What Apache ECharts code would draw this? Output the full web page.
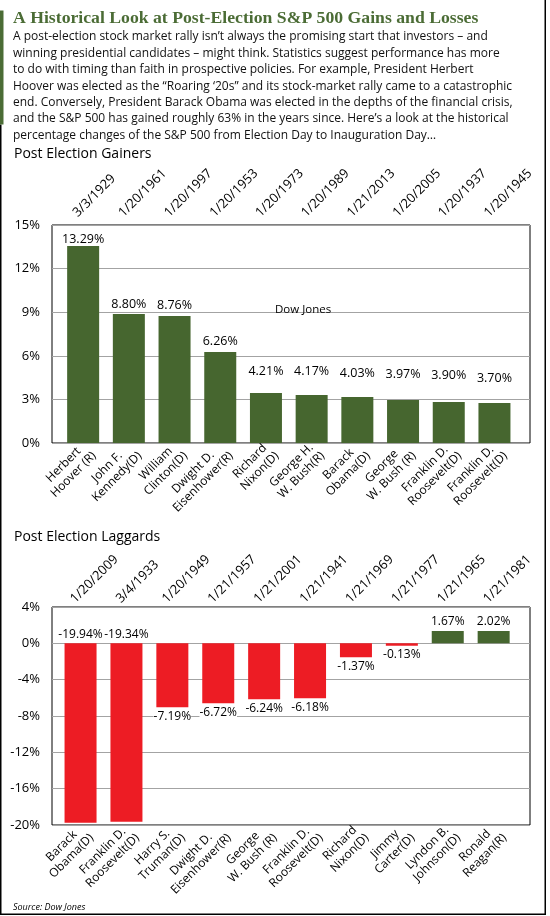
<!DOCTYPE html>
<html><head><meta charset="utf-8">
<script src="https://cdn.jsdelivr.net/npm/echarts@6/dist/echarts.min.js"></script>
<style>html,body{margin:0;padding:0;background:#fff}#c{width:550px;height:916px}</style>
</head><body><div id="c"></div>
<script>
// ---------- data ----------
const titleText = 'A Historical Look at Post-Election S&P 500 Gains and Losses';
const bodyLines = [
  'A post-election stock market rally isn\u2019t always the promising start that investors \u2013 and',
  'winning presidential candidates \u2013 might think. Statistics suggest performance has more',
  'to do with timing than faith in prospective policies. For example, President Herbert',
  'Hoover was elected as the \u201cRoaring \u201820s\u201d and its stock-market rally came to a catastrophic',
  'end. Conversely, President Barack Obama was elected in the depths of the financial crisis,',
  'and the S&P 500 has gained roughly 63% in the years since. Here\u2019s a look at the historical',
  'percentage changes of the S&P 500 from Election Day to Inauguration Day\u2026'
];
const gainTitle = 'Post Election Gainers';
const gainDates = ['3/3/1929','1/20/1961','1/20/1997','1/20/1953','1/20/1973','1/20/1989','1/21/2013','1/20/2005','1/20/1937','1/20/1945'];
const gainNames = ['Herbert\nHoover (R)','John F.\nKennedy(D)','William\nClinton(D)','Dwight D.\nEisenhower(R)','Richard\nNixon(D)','George H.\nW. Bush(R)','Barack\nObama(D)','George\nW. Bush (R)','Franklin D.\nRoosevelt(D)','Franklin D.\nRoosevelt(D)'];
const gainValues = [13.55, 8.88, 8.74, 6.26, 3.44, 3.30, 3.17, 2.96, 2.82, 2.75];   // bar heights as drawn
const gainLabels = [13.29, 8.80, 8.76, 6.26, 4.21, 4.17, 4.03, 3.97, 3.90, 3.70];   // printed values
const gainAxis = [0, 15, 3];

const lagTitle = 'Post Election Laggards';
const lagDates = ['1/20/2009','3/4/1933','1/20/1949','1/21/1957','1/21/2001','1/21/1941','1/21/1969','1/21/1977','1/21/1965','1/21/1981'];
const lagNames = ['Barack\nObama(D)','Franklin D.\nRoosevelt(D)','Harry S.\nTruman(D)','Dwight D.\nEisenhower(R)','George\nW. Bush (R)','Franklin D.\nRoosevelt(D)','Richard\nNixon(D)','Jimmy\nCarter(D)','Lyndon B.\nJohnson(D)','Ronald\nReagan(R)'];
const lagValues = [-19.74, -19.63, -7.04, -6.60, -6.16, -6.04, -1.54, -0.26, 1.35, 1.35];
const lagLabels = [-19.94, -19.34, -7.19, -6.72, -6.24, -6.18, -1.37, -0.13, 1.67, 2.02];
const lagAxis = [-20, 4, 4];

const annotation = 'Dow Jones';
const sourceText = 'Source: Dow Jones';

// ---------- styles ----------
const SANS = '"Open Sans", "Noto Sans", sans-serif';
const GREEN = '#46662f';
const RED = '#ed1c24';
const fmt = v => v.toFixed(2) + '%';

const chart = echarts.init(document.getElementById('c'), null, {renderer: 'canvas'});

const grids = [], xAxes = [], yAxes = [], series = [];

function panel(p) {
  const g = grids.length;
  const [mn, mx, step] = p.axis;
  grids.push(
    {left: 52, top: p.top, width: 478, height: 218, show: true, borderColor: '#000', borderWidth: 1, backgroundColor: 'transparent'},
    {left: p.bandLeft, top: p.top, width: p.bandW, height: 218},
    {left: p.bandLeft + p.dateShift, top: p.top, width: p.bandW, height: 218},
    {left: p.bandLeft + p.nameShift, top: p.top, width: p.bandW, height: 218}
  );
  xAxes.push(
    {gridIndex: g, type: 'value', min: 0, max: 1, show: false},
    {gridIndex: g + 1, type: 'category', data: p.names, show: false},
    {gridIndex: g + 2, type: 'category', data: p.dates, position: 'top',
      axisLine: {show: false}, axisTick: {show: false},
      axisLabel: {interval: 0, rotate: 45, margin: p.dateMargin, fontSize: 13, color: '#000', fontFamily: SANS}},
    {gridIndex: g + 3, type: 'category', data: p.names, position: 'bottom',
      axisLine: {show: false}, axisTick: {show: false},
      axisLabel: {interval: 0, rotate: 45, margin: p.nameMargin,
        formatter: v => v.split('\n').map(s => '{c|' + s + '}').join('\n'),
        rich: {c: {align: 'center', fontSize: 12, lineHeight: 14, color: '#000', fontFamily: SANS}}}}
  );
  yAxes.push(
    {gridIndex: g, type: 'value', min: mn, max: mx, interval: step,
      axisLine: {show: false}, axisTick: {show: false},
      axisLabel: {formatter: v => v + '%', color: '#000', fontSize: 13, margin: 12, fontFamily: SANS},
      splitLine: {lineStyle: {color: '#a3a3a3', width: 1}}},
    {gridIndex: g + 1, type: 'value', min: mn, max: mx, interval: step, show: false},
    {gridIndex: g + 2, type: 'value', min: mn, max: mx, interval: step, show: false},
    {gridIndex: g + 3, type: 'value', min: mn, max: mx, interval: step, show: false}
  );
  return g + 1;
}

// top panel
const gIdx = panel({top: 225, axis: gainAxis, names: gainNames, dates: gainDates,
  bandLeft: 60.3, bandW: 457, dateShift: -8, dateMargin: 10, nameShift: 6, nameMargin: 6});
series.push({
  type: 'bar', xAxisIndex: gIdx, yAxisIndex: gIdx, data: gainValues, barWidth: 32,
  itemStyle: {color: GREEN}, silent: true
}, {
  type: 'bar', xAxisIndex: gIdx, yAxisIndex: gIdx, data: gainLabels, barWidth: 32, barGap: '-100%',
  itemStyle: {color: 'rgba(0,0,0,0)'}, silent: true, z: 5,
  label: {show: true, position: 'top', distance: 4, formatter: o => fmt(gainLabels[o.dataIndex]),
    color: '#000', fontSize: 12.5, fontFamily: SANS}
});

// bottom panel
const lIdx = panel({top: 607, axis: lagAxis, names: lagNames, dates: lagDates,
  bandLeft: 57.6, bandW: 459, dateShift: -8, dateMargin: 6, nameShift: 6, nameMargin: 6});
series.push({
  type: 'bar', xAxisIndex: lIdx, yAxisIndex: lIdx, barWidth: 32, silent: true, z: 5,
  data: lagValues.map((v, i) => ({
    value: v,
    itemStyle: {color: v < 0 ? RED : GREEN},
    label: {position: v < -15 ? 'top' : (v < 0 ? 'bottom' : 'top')}
  })),
  label: {show: true, distance: 3, formatter: o => fmt(lagLabels[o.dataIndex]),
    color: '#000', fontSize: 12, fontFamily: SANS, backgroundColor: '#fff', padding: 0}
});

// ---------- graphics ----------
const graphic = [
  {type: 'rect', shape: {x: 0, y: 10.5, width: 3.5, height: 114}, style: {fill: '#4b6c35'}, z: 10},
  {type: 'line', shape: {x1: 0.75, y1: 124.5, x2: 0.75, y2: 914}, style: {stroke: '#000', lineWidth: 1.5}},
  {type: 'line', shape: {x1: 545.25, y1: 0, x2: 545.25, y2: 914}, style: {stroke: '#000', lineWidth: 1.5}},
  {type: 'line', shape: {x1: 0, y1: 914.25, x2: 546, y2: 914.25}, style: {stroke: '#000', lineWidth: 1.5}},
  {type: 'text', x: 13, y: 18.5, style: {text: titleText, font: 'bold 17.7px "Liberation Serif", serif', fill: '#4b6c35', verticalAlign: 'middle'}},
  {type: 'text', x: 14, y: 154.5, style: {text: gainTitle, font: '14px ' + SANS, fill: '#000', verticalAlign: 'middle'}},
  {type: 'text', x: 14, y: 537.5, style: {text: lagTitle, font: '14px ' + SANS, fill: '#000', verticalAlign: 'middle'}},
  {type: 'text', x: 275, y: 310, style: {text: annotation, font: '11.5px ' + SANS, fill: '#000', verticalAlign: 'middle'}, z: 100},
  {type: 'text', x: 13, y: 907, style: {text: sourceText, font: 'italic 9px ' + SANS, fill: '#000', verticalAlign: 'middle'}}
];
bodyLines.forEach((t, i) => graphic.push({
  type: 'text', x: 13, y: 37 + i * 16.4, style: {text: t, font: '12px ' + SANS, fill: '#111', verticalAlign: 'middle'}
}));

chart.setOption({
  animation: false,
  backgroundColor: '#fff',
  grid: grids, xAxis: xAxes, yAxis: yAxes, series: series, graphic: graphic
});
</script></body></html>
